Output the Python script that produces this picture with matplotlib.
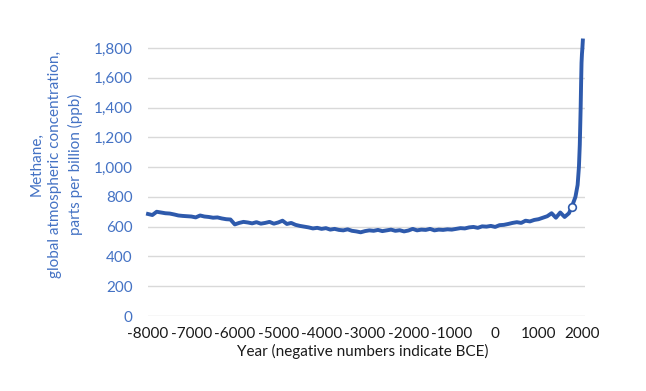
import matplotlib
matplotlib.use("Agg")
import matplotlib.pyplot as plt

years = list(range(-8000, 1800, 100)) + [1750, 1800, 1850, 1900, 1930, 1950, 1970, 1980, 1990, 2000, 2010, 2020]
years = sorted(set(years))
methane = [
    685, 678, 700, 695, 690, 688, 682, 675, 672, 670,   # -8000..-7100
    668, 662, 675, 668, 665, 660, 662, 655, 650, 648,   # -7000..-6100
    615, 625, 632, 628, 622, 630, 620, 625, 632, 620,   # -6000..-5100
    628, 640, 618, 625, 612, 605, 600, 595, 588, 592,   # -5000..-4100
    585, 590, 580, 585, 578, 575, 582, 572, 568, 562,   # -4000..-3100
    570, 575, 572, 578, 570, 575, 580, 572, 576, 568,   # -3000..-2100
    574, 585, 575, 580, 578, 585, 575, 580, 578, 582,   # -2000..-1100
    580, 585, 590, 588, 595, 598, 592, 602, 600, 605,   # -1000..-100
    598, 610, 612, 618, 625, 630, 625, 640, 635, 645,   # 0..900
    650, 660, 670, 690, 660, 695, 665, 690,             # 1000..1700
    722, 760, 800, 880, 1000, 1150, 1400, 1560, 1700, 1760, 1800, 1850,
]
marker_year = [1770]
marker_value = [735]

y_ticks = list(range(0, 1801, 200))
x_ticks = list(range(-8000, 2001, 1000))

line_color = "#2E5AAC"
label_blue = "#4472C4"

plt.rcParams["font.family"] = ["Lato", "DejaVu Sans"]

fig = plt.figure(figsize=(6.46, 3.91), dpi=100)
ax = fig.add_axes([148/646, 75/391, 437/646, 277/391])

ax.plot(years, methane, color=line_color, lw=2.8, solid_joinstyle="round", clip_on=False, zorder=3)
ax.plot(marker_year, marker_value, "o", ms=5.5, mfc="white", mec=line_color, mew=1.2, zorder=4)

ax.set_xlim(-8000, 2070)
ax.set_ylim(0, 1860)
ax.set_yticks(y_ticks)
ax.set_yticklabels([f"{v:,}" for v in y_ticks], color=label_blue, fontsize=11)
ax.set_xticks(x_ticks)
ax.set_xticklabels([str(v) for v in x_ticks], color="#1a1a1a", fontsize=11)
ax.tick_params(axis="both", length=0)
ax.tick_params(axis="y", pad=11)
ax.tick_params(axis="x", pad=8)
ax.grid(axis="y", color="#D9D9D9", lw=1)
ax.grid(axis="x", visible=False)
ax.set_axisbelow(True)
for s in ax.spines.values():
    s.set_visible(False)

fig.text(363/646, 1 - 351/391, "Year (negative numbers indicate BCE)", ha="center", va="center",
         fontsize=11, color="#1a1a1a")
fig.text(56/646, 1 - 164/391,
         "Methane,\nglobal atmospheric concentration,\nparts per billion (ppb)",
         ha="center", va="center", rotation=90, fontsize=11, color=label_blue, linespacing=1.45)

fig.savefig("out.png", dpi=100)
